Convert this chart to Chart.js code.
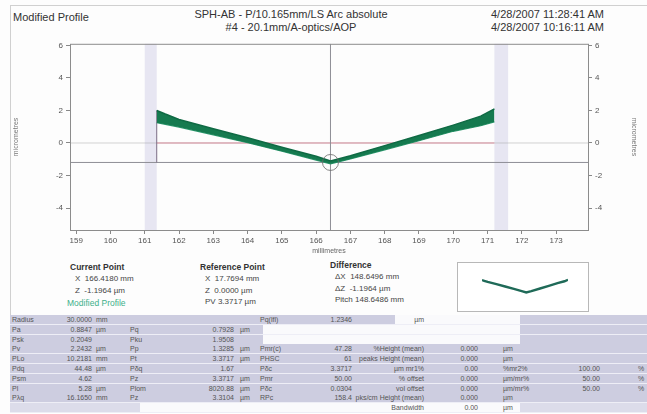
<!DOCTYPE html>
<html>
<head>
<meta charset="utf-8">
<script src="https://cdn.jsdelivr.net/npm/chart.js@4.4.1/dist/chart.umd.min.js"></script>
<style>
body { margin: 0; background: #fff; font-family: "Liberation Sans", Arial, sans-serif; color: #3a3a3a; }
#page { position: relative; width: 647px; height: 414px; overflow: hidden; background: #fdfdfd; }
.t { position: absolute; white-space: nowrap; }
.hd { font-size: 11px; color: #333; }
.info { font-size: 8px; color: #444; }
.info b { font-size: 8.5px; color: #333; }
#frameTop { position: absolute; left: 10px; top: 5px; width: 637px; height: 1px; background: #d0d0d0; }
#frameLeft { position: absolute; left: 10px; top: 5px; width: 1px; height: 410px; background: #d0d0d0; }
#mainWrap { position: absolute; left: 10px; top: 35px; }
#insetWrap { position: absolute; left: 457px; top: 262px; width: 130px; height: 48px; border: 1px solid #b8b8b8; background: #fff; }
#table { position: absolute; left: 10px; top: 315px; width: 637px; height: 99px; background: #fff; }
.row { position: absolute; left: 0; width: 637px; height: 9px; background: #cdcde0; border-bottom: 1px solid #eeeef6; }
.seg { position: absolute; top: 0; height: 9px; }
.cell { position: absolute; top: 0; font-size: 7px; line-height: 9px; color: #555; white-space: nowrap; }
</style>
</head>
<body>
<div id="page">
  <div id="frameTop"></div>
  <div id="frameLeft"></div>

  <div class="t hd" style="left:13px;top:11px;">Modified Profile</div>
  <div class="t hd" style="left:291px;top:8px;transform:translateX(-50%);">SPH-AB - P/10.165mm/LS Arc absolute</div>
  <div class="t hd" style="left:291px;top:21px;transform:translateX(-50%);">#4 - 20.1mm/A-optics/AOP</div>
  <div class="t hd" style="left:491px;top:8px;">4/28/2007 11:28:41 AM</div>
  <div class="t hd" style="left:491px;top:21px;">4/28/2007 10:16:11 AM</div>

  <div id="mainWrap"><canvas id="profile" width="630" height="220"></canvas></div>

  <div class="t info" style="left:70px;top:262px;"><b>Current Point</b></div>
  <div class="t info" style="left:75px;top:274px;">X&nbsp; 166.4180 mm</div>
  <div class="t info" style="left:75px;top:286px;">Z&nbsp; -1.1964 µm</div>
  <div class="t info" style="left:67px;top:298px;color:#3cb08a;font-size:8.5px;">Modified Profile</div>

  <div class="t info" style="left:200px;top:262px;"><b>Reference Point</b></div>
  <div class="t info" style="left:205px;top:274px;">X&nbsp; 17.7694 mm</div>
  <div class="t info" style="left:205px;top:286px;">Z&nbsp; 0.0000 µm</div>
  <div class="t info" style="left:205px;top:297px;">PV 3.3717 µm</div>

  <div class="t info" style="left:330px;top:260px;"><b>Difference</b></div>
  <div class="t info" style="left:335px;top:272px;">ΔX&nbsp; 148.6496 mm</div>
  <div class="t info" style="left:335px;top:284px;">ΔZ&nbsp; -1.1964 µm</div>
  <div class="t info" style="left:335px;top:295px;">Pitch 148.6486 mm</div>

  <div id="insetWrap"><canvas id="inset" width="130" height="48"></canvas></div>

  <div id="table"></div>
</div>

<script>
// axis extents and tick labels
const xRange = [158.82, 173.93];
const yRange = [-5.35, 6.1];
const xTicks = [159, 160, 161, 162, 163, 164, 165, 166, 167, 168, 169, 170, 171, 172, 173];
const yTicks = [-4, -2, 0, 2, 4, 6];

// excluded (shaded) zones, mm
const excludedZones = [[161.0, 161.35], [171.2, 171.6]];

// measured profile envelope (mm / micrometres)
const profileX     = [161.35, 161.6, 162.0, 163.0, 164.0, 165.0, 166.0, 166.42, 167.0, 168.0, 169.0, 170.0, 170.8, 171.2];
const profileUpper = [2.0, 1.78, 1.45, 0.88, 0.32, -0.26, -0.82, -1.1, -0.78, -0.16, 0.46, 1.1, 1.65, 2.1];
const profileLower = [1.25, 1.15, 0.98, 0.5, 0.02, -0.5, -1.05, -1.28, -0.98, -0.42, 0.14, 0.72, 1.06, 1.3];

// cursor / reference values
const currentPoint = { x: 166.418, y: -1.1964 };
const referenceZ = 0;

// statistics table
const tableRows = [
  ["Radius", "30.0000", "mm", "", "", "", "Pq(lfl)", "1.2346", "µm", "", "", "", ""],
  ["Pa", "0.8847", "µm", "Pq", "0.7928", "µm", "", "", "", "", "", "", ""],
  ["Psk", "0.2049", "", "Pku", "1.9508", "", "", "", "", "", "", "", ""],
  ["Pv", "2.2432", "µm", "Pp", "1.3285", "µm", "Pmr(c)", "47.28", "%Height (mean)", "0.000", "µm", "", ""],
  ["PLo", "10.2181", "mm", "Pt", "3.3717", "µm", "PHSC", "61", "peaks Height (mean)", "0.000", "µm", "", ""],
  ["Pdq", "44.48", "µm", "Pδq", "1.67", "", "Pδc", "3.3717", "µm mr1%", "0.00", "%mr2%", "100.00", "%"],
  ["Psm", "4.62", "", "Pz", "3.3717", "µm", "Pmr", "50.00", "% offset", "0.000", "µm/mr%", "50.00", "%"],
  ["Pl", "5.28", "µm", "Plom", "8020.88", "µm", "Pδc", "0.0304", "vol offset", "0.000", "µm/mr%", "50.00", "%"],
  ["Pλq", "16.1650", "mm", "Pz", "3.3104", "µm", "RPc", "158.4", "pks/cm Height (mean)", "0.000", "µm", "", ""],
  ["", "", "", "", "", "", "", "", "Bandwidth", "0.00", "µm", "", ""]
];

// column anchor x (relative to table) and alignment
const colPos = [[2, 'l'], [82, 'r'], [86, 'l'], [120, 'l'], [224, 'r'], [230, 'l'], [250, 'l'], [342, 'r'], [414, 'r'], [468, 'r'], [493, 'l'], [590, 'r'], [628, 'l']];
// white segments per row [row, x0, x1]
const whiteSegs = [[0, 385, 510], [1, 253, 510], [2, 253, 510], [9, 130, 510]];

const table = document.getElementById('table');
tableRows.forEach((row, r) => {
  const rowDiv = document.createElement('div');
  rowDiv.className = 'row';
  rowDiv.style.top = (r * 9.8) + 'px';
  if (r === 9) rowDiv.style.background = '#dcdcea';
  whiteSegs.filter(s => s[0] === r).forEach(s => {
    const seg = document.createElement('div');
    seg.className = 'seg';
    seg.style.left = s[1] + 'px';
    seg.style.width = (s[2] - s[1]) + 'px';
    seg.style.background = '#fafafc';
    rowDiv.appendChild(seg);
  });
  row.forEach((txt, c) => {
    if (!txt) return;
    const cell = document.createElement('div');
    cell.className = 'cell';
    cell.textContent = txt;
    const [x, a] = colPos[c];
    if (a === 'r') { cell.style.right = (637 - x) + 'px'; } else { cell.style.left = x + 'px'; }
    rowDiv.appendChild(cell);
  });
  table.appendChild(rowDiv);
});

const upperPts = profileX.map((x, i) => ({ x: x, y: profileUpper[i] }));
const lowerPts = profileX.map((x, i) => ({ x: x, y: profileLower[i] }));
const xStart = profileX[0];
const xEnd = profileX[profileX.length - 1];

// shaded zones + plot frame
const zonePlugin = {
  id: 'zones',
  beforeDatasetsDraw(chart) {
    const { ctx, chartArea, scales } = chart;
    ctx.save();
    ctx.fillStyle = 'rgba(200, 198, 226, 0.42)';
    excludedZones.forEach(z => {
      const x0 = scales.x.getPixelForValue(z[0]);
      const x1 = scales.x.getPixelForValue(z[1]);
      ctx.fillRect(x0, chartArea.top, x1 - x0, chartArea.bottom - chartArea.top);
    });
    ctx.restore();
  },
  afterDraw(chart) {
    const { ctx, chartArea } = chart;
    ctx.save();
    ctx.strokeStyle = '#8c8c8c';
    ctx.lineWidth = 1;
    ctx.strokeRect(chartArea.left + 0.5, chartArea.top + 0.5, chartArea.right - chartArea.left, chartArea.bottom - chartArea.top);
    ctx.restore();
  }
};

const tickFont = { family: 'Liberation Sans', size: 8 };
const titleFont = { family: 'Liberation Sans', size: 7 };

function yAxis(pos, width) {
  return {
    type: 'linear',
    position: pos,
    min: yRange[0],
    max: yRange[1],
    afterBuildTicks: s => { s.ticks = yTicks.map(v => ({ value: v })); },
    afterFit: s => { s.width = width; },
    grid: { drawOnChartArea: false, tickLength: 4, color: '#888' },
    border: { display: false },
    ticks: { color: '#555', font: tickFont, padding: 3 },
    title: { display: true, text: 'micrometres', color: '#777', font: titleFont, padding: 2 }
  };
}

new Chart(document.getElementById('profile'), {
  type: 'line',
  data: {
    datasets: [
      { data: [{ x: xRange[0], y: referenceZ }, { x: xRange[1], y: referenceZ }], borderColor: 'rgba(160,160,160,0.45)', borderWidth: 1, pointRadius: 0, order: 9 },
      { data: [{ x: xStart, y: referenceZ }, { x: xEnd, y: referenceZ }], borderColor: '#d98c9c', borderWidth: 1, pointRadius: 0, order: 8 },
      { data: [{ x: xRange[0], y: currentPoint.y }, { x: xRange[1], y: currentPoint.y }], borderColor: '#8e8e96', borderWidth: 1, pointRadius: 0, order: 7 },
      { data: [{ x: currentPoint.x, y: yRange[0] }, { x: currentPoint.x, y: yRange[1] }], borderColor: '#8e8e96', borderWidth: 1, pointRadius: 0, order: 7 },
      { data: [{ x: xStart, y: currentPoint.y }, { x: xStart, y: profileUpper[0] }], borderColor: '#7c6e86', borderWidth: 1, pointRadius: 0, order: 6 },
      { data: lowerPts, borderColor: '#2f9a70', borderWidth: 1.2, pointRadius: 0, fill: false, order: 3 },
      { data: upperPts, borderColor: '#0f6a44', borderWidth: 1.5, pointRadius: 0, fill: '-1', backgroundColor: '#157a4f', order: 2 },
      { data: [currentPoint], showLine: false, pointRadius: 8, pointBorderColor: '#6a6a6a', pointBorderWidth: 0.8, pointBackgroundColor: 'rgba(0,0,0,0)', order: 1 }
    ]
  },
  options: {
    responsive: false,
    animation: false,
    layout: { padding: { top: 8, left: 0, right: 0, bottom: 0 } },
    plugins: { legend: { display: false }, tooltip: { enabled: false } },
    scales: {
      x: {
        type: 'linear',
        min: xRange[0],
        max: xRange[1],
        afterBuildTicks: s => { s.ticks = xTicks.map(v => ({ value: v })); },
        afterFit: s => { s.height = 25; },
        grid: { drawOnChartArea: false, tickLength: 4, color: '#888' },
        border: { display: false },
        ticks: { color: '#555', font: tickFont, padding: 2, maxRotation: 0 },
        title: { display: true, text: 'millimetres', color: '#666', font: titleFont, padding: 0 }
      },
      y: yAxis('left', 60),
      y2: yAxis('right', 52)
    }
  },
  plugins: [zonePlugin]
});

// thumbnail of the profile
const centerPts = profileX.map((x, i) => ({ x: x, y: (profileUpper[i] + profileLower[i]) / 2 }));
new Chart(document.getElementById('inset'), {
  type: 'line',
  data: {
    datasets: [
      { data: centerPts, borderColor: '#1f6a58', borderWidth: 2.4, pointRadius: 0 }
    ]
  },
  options: {
    responsive: false,
    animation: false,
    layout: { padding: { left: 24, right: 20, top: 0, bottom: 0 } },
    plugins: { legend: { display: false }, tooltip: { enabled: false } },
    scales: {
      x: { type: 'linear', display: false, min: xStart, max: xEnd },
      y: { display: false, min: -5.4, max: 5.5 }
    }
  }
});
</script>
</body>
</html>
